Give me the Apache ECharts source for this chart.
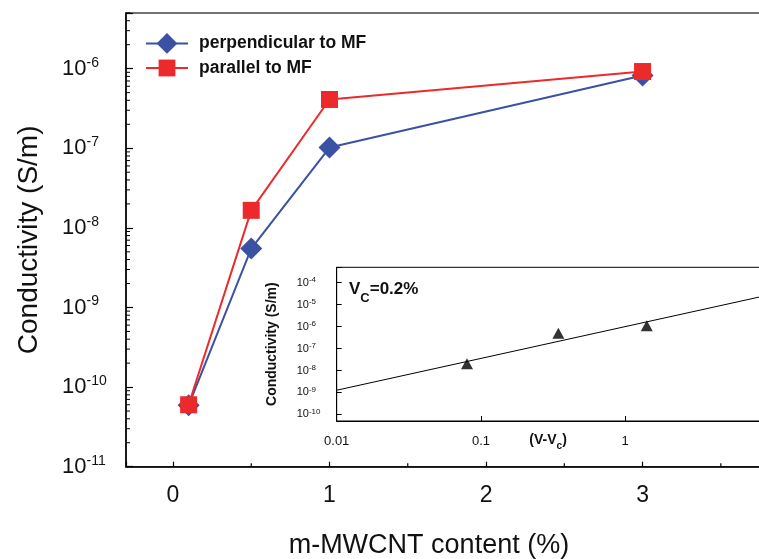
<!DOCTYPE html>
<html>
<head>
<meta charset="utf-8">
<script src="https://cdn.jsdelivr.net/npm/echarts@6/dist/echarts.min.js"></script>
<style>
html,body{margin:0;padding:0;background:#fff;}
#c{width:759px;height:559px;}
</style>
</head>
<body>
<div id="c"></div>
<script>
// ---- data ----
const seriesNames = ['perpendicular to MF', 'parallel to MF'];
const contentX = [0.1, 0.5, 1, 3];
const perpValues = [5.9e-11, 5.5e-9, 1.02e-7, 8.2e-7];
const paraValues = [6.0e-11, 1.66e-8, 4.1e-7, 9.2e-7];
const insetX = [0.08, 0.344, 1.41];
const insetY = [2.0e-8, 4.9e-7, 1.1e-6];
const fitX = [0.01, 10];
const fitY = [1.26e-9, 2.8e-5];
const mainXTicks = [0, 1, 2, 3];
const mainXMinor = [0.5, 1.5, 2.5, 3.5];

// axis ranges
const X_MIN = -0.3, X_MAX = 3.8;
const Y_MIN = 1e-11, Y_MAX = 5e-6;

// minor log ticks (2..9 x 10^n) inside main y range
const yMinor = [];
for (let e = -11; e <= -6; e++) {
  for (let k = 2; k <= 9; k++) {
    const v = k * Math.pow(10, e);
    if (v < Y_MAX) yMinor.push(v);
  }
}

const BLUE = '#3B51A3';
const RED = '#EC2A2C';
const FONT = '"Liberation Sans", Arial, Helvetica, sans-serif';

function powLabel(v) {
  const l = Math.log10(v);
  const e = Math.round(l);
  if (Math.abs(l - e) > 1e-6) return '';
  return '{b|10}{s|' + e + '}';
}

const chart = echarts.init(document.getElementById('c'));
chart.setOption({
  animation: false,
  textStyle: { fontFamily: FONT },
  legend: [
    {
      data: [seriesNames[0]], orient: 'vertical', left: 140, top: 28,
      itemWidth: 42, itemHeight: 26,
      textStyle: { fontSize: 17.5, fontWeight: 'bold', color: '#111', fontFamily: FONT, padding: [0, 0, 0, 6] }
    },
    {
      data: [seriesNames[1]], orient: 'vertical', left: 140, top: 54,
      itemWidth: 42, itemHeight: 21,
      textStyle: { fontSize: 17.5, fontWeight: 'bold', color: '#111', fontFamily: FONT, padding: [0, 0, 0, 6] }
    }
  ],
  grid: [
    { left: 126, top: 13, height: 453.7, width: 641.8, outerBoundsMode: 'none', containLabel: false,
      show: true, borderColor: '#444', borderWidth: 1.5, backgroundColor: 'transparent' },
    { left: 336.7, top: 267.3, height: 153.7, width: 432.8, outerBoundsMode: 'none', containLabel: false,
      show: true, borderColor: '#000', borderWidth: 1, backgroundColor: '#fff', z: 5 }
  ],
  xAxis: [
    {
      type: 'value', gridIndex: 0, min: X_MIN, max: X_MAX,
      name: 'm-MWCNT content (%)', nameLocation: 'middle', nameGap: 65, nameMoveOverlap: false,
      nameTextStyle: { fontSize: 27, color: '#111', fontFamily: FONT, padding: [0, 36, 0, 0] },
      axisLine: { show: true, onZero: false, lineStyle: { color: '#000', width: 1.5 } },
      axisTick: { show: true, inside: true, length: 5, lineStyle: { color: '#000', width: 1.2 } },
      axisLabel: {
        fontSize: 23, color: '#111', margin: 17,
        formatter: v => (mainXTicks.indexOf(v) >= 0 ? String(v) : '')
      },
      splitLine: { show: false }
    },
    {
      type: 'log', gridIndex: 1, min: 0.01, max: 10, logBase: 10, z: 6,
      name: '(V-V{sub|c})', nameLocation: 'middle', nameGap: 12, nameMoveOverlap: false,
      nameTextStyle: {
        fontSize: 14, fontWeight: 'bold', color: '#111', fontFamily: FONT, padding: [0, 10, 0, 0],
        rich: { sub: { fontSize: 10, fontWeight: 'bold', verticalAlign: 'bottom', lineHeight: 10, padding: [0, 0, -4, 0] } }
      },
      axisLine: { show: true, onZero: false, lineStyle: { color: '#000', width: 1 } },
      axisTick: { show: true, inside: true, length: 5, lineStyle: { color: '#000', width: 1 } },
      axisLabel: {
        fontSize: 13, color: '#111', margin: 14,
        formatter: v => (v > 5 ? '' : String(Number(v.toPrecision(3))))
      },
      splitLine: { show: false }, minorTick: { show: false }
    }
  ],
  yAxis: [
    {
      type: 'log', gridIndex: 0, min: Y_MIN, max: Y_MAX, logBase: 10,
      name: 'Conductivity (S/m)', nameLocation: 'middle', nameGap: 83, nameMoveOverlap: false,
      nameTextStyle: { fontSize: 28, color: '#111', fontFamily: FONT },
      axisLine: { show: true, onZero: false, lineStyle: { color: '#000', width: 1.5 } },
      axisTick: { show: true, inside: true, length: 7, lineStyle: { color: '#000', width: 1.2 } },
      axisLabel: {
        align: 'left', margin: 64, color: '#111',
        formatter: powLabel,
        rich: {
          b: { fontSize: 22, lineHeight: 26, color: '#111', fontFamily: FONT },
          s: { fontSize: 14, lineHeight: 14, verticalAlign: 'top', color: '#111', fontFamily: FONT }
        }
      },
      splitLine: { show: false }, minorTick: { show: false }
    },
    {
      type: 'log', gridIndex: 1, min: 5e-11, max: 5e-4, logBase: 10, z: 6,
      name: 'Conductivity (S/m)', nameLocation: 'middle', nameGap: 58, nameMoveOverlap: false,
      nameTextStyle: { fontSize: 14, fontWeight: 'bold', color: '#111', fontFamily: FONT },
      axisLine: { show: true, onZero: false, lineStyle: { color: '#000', width: 1 } },
      axisTick: { show: true, inside: true, length: 5, lineStyle: { color: '#000', width: 1 } },
      axisLabel: {
        align: 'left', margin: 40, color: '#111',
        formatter: powLabel,
        rich: {
          b: { fontSize: 11, lineHeight: 13, color: '#111', fontFamily: FONT },
          s: { fontSize: 8, lineHeight: 8, verticalAlign: 'top', color: '#111', fontFamily: FONT }
        }
      },
      splitLine: { show: false }, minorTick: { show: false }
    }
  ],
  graphic: [
    {
      type: 'text', left: 349, top: 281, z: 100,
      style: {
        text: '{v|V}{c|C}{v|=0.2%}',
        rich: {
          v: { fontSize: 17, fontWeight: 'bold', fill: '#111', fontFamily: FONT, lineHeight: 20 },
          c: { fontSize: 13, fontWeight: 'bold', fill: '#111', fontFamily: FONT, verticalAlign: 'bottom', lineHeight: 13, padding: [0, 0, -5, 0] }
        }
      }
    }
  ],
  series: [
    {
      type: 'custom', xAxisIndex: 0, yAxisIndex: 0, silent: true, z: 3,
      data: yMinor.map(v => [X_MIN, v]),
      renderItem: (params, api) => {
        const p = api.coord([api.value(0), api.value(1)]);
        return { type: 'line', shape: { x1: p[0], y1: p[1], x2: p[0] + 4, y2: p[1] }, style: { stroke: '#000', lineWidth: 1 } };
      }
    },
    {
      type: 'custom', xAxisIndex: 0, yAxisIndex: 0, silent: true, z: 3,
      data: mainXMinor.map(v => [v, Y_MIN]),
      renderItem: (params, api) => {
        const p = api.coord([api.value(0), api.value(1)]);
        return { type: 'line', shape: { x1: p[0], y1: p[1], x2: p[0], y2: p[1] - 3.5 }, style: { stroke: '#000', lineWidth: 1.2 } };
      }
    },
    {
      name: seriesNames[0], type: 'line', xAxisIndex: 0, yAxisIndex: 0,
      data: contentX.map((x, i) => [x, perpValues[i]]),
      symbol: 'diamond', symbolSize: 22,
      lineStyle: { color: BLUE, width: 2 }, itemStyle: { color: BLUE }, z: 3
    },
    {
      name: seriesNames[1], type: 'line', xAxisIndex: 0, yAxisIndex: 0,
      data: contentX.map((x, i) => [x, paraValues[i]]),
      symbol: 'rect', symbolSize: 17,
      lineStyle: { color: RED, width: 2 }, itemStyle: { color: RED }, z: 4
    },
    {
      type: 'line', xAxisIndex: 1, yAxisIndex: 1, z: 7,
      data: fitX.map((x, i) => [x, fitY[i]]),
      symbol: 'none', lineStyle: { color: '#000', width: 1 }
    },
    {
      type: 'scatter', xAxisIndex: 1, yAxisIndex: 1, z: 8,
      data: insetX.map((x, i) => [x, insetY[i]]),
      symbol: 'triangle', symbolSize: [12, 11], itemStyle: { color: '#000' }
    }
  ]
});
</script>
</body>
</html>
